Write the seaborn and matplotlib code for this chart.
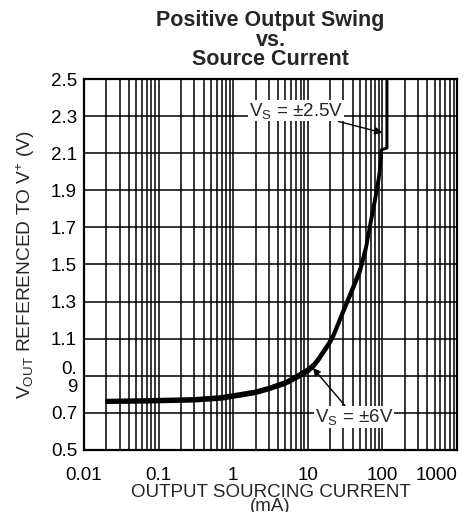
import numpy as np
import pandas as pd
import matplotlib
matplotlib.use('Agg')
import matplotlib.pyplot as plt
import seaborn as sns

# Data (current in mA, voltage in V)
current_6v = [0.02, 0.06, 0.3, 0.7, 1, 2, 3, 5, 7, 10, 12, 14, 16, 19, 22, 30, 40, 50, 60, 70, 80, 90, 97]
vout_6v = [0.756, 0.758, 0.764, 0.774, 0.784, 0.804, 0.824, 0.854, 0.884, 0.92, 0.948, 0.982, 1.018, 1.062, 1.108, 1.24, 1.36, 1.455, 1.575, 1.72, 1.84, 1.96, 2.09]

current_25v = [0.02, 0.06, 0.3, 0.7, 1, 2, 3, 5, 7, 10, 12, 14, 16, 19, 22, 30, 40, 50, 60, 70, 80, 90, 97, 115, 115]
vout_25v = [0.768, 0.771, 0.777, 0.788, 0.798, 0.818, 0.838, 0.868, 0.9, 0.938, 0.964, 0.998, 1.034, 1.078, 1.124, 1.258, 1.38, 1.478, 1.598, 1.745, 1.865, 1.985, 2.118, 2.128, 2.49]

y_ticks = [0.5, 0.7, 0.9, 1.1, 1.3, 1.5, 1.7, 1.9, 2.1, 2.3, 2.5]
y_tick_labels = ['0.5', '0.7', '0.\n9', '1.1', '1.3', '1.5', '1.7', '1.9', '2.1', '2.3', '2.5']
x_ticks = [0.01, 0.1, 1, 10, 100, 1000]
x_tick_labels = ['0.01', '0.1', '1', '10', '100', '1000']

df = pd.concat([
    pd.DataFrame({'current': current_6v, 'vout': vout_6v, 'supply': '6V'}),
    pd.DataFrame({'current': current_25v, 'vout': vout_25v, 'supply': '2.5V'}),
])

sns.set_style('white')
plt.rcParams['font.family'] = ['Liberation Sans', 'DejaVu Sans']
plt.rcParams['mathtext.fontset'] = 'custom'
plt.rcParams['mathtext.rm'] = 'Liberation Sans'
plt.rcParams['mathtext.it'] = 'Liberation Sans'

fig = plt.figure(figsize=(4.68, 5.12), dpi=100)
ax = fig.add_axes([0.1795, 0.1211, 0.797, 0.7246])

sns.lineplot(data=df, x='current', y='vout', units='supply', estimator=None,
             color='black', linewidth=2.2, legend=False, ax=ax)

ax.set_xscale('log')
ax.set_xlim(0.01, 1000)
ax.set_ylim(0.5, 2.5)
ax.set_xticks(x_ticks)
ax.set_xticklabels(x_tick_labels)
ax.set_yticks(y_ticks)
ax.set_yticklabels(y_tick_labels, linespacing=1.1)
ax.xaxis.set_minor_locator(matplotlib.ticker.LogLocator(base=10, subs=np.arange(2, 10)))
ax.xaxis.set_minor_formatter(matplotlib.ticker.NullFormatter())
ax.get_xticklabels()[-1].set_horizontalalignment('right')

ax.grid(True, which='both', axis='x', color='black', linewidth=1.1)
ax.grid(True, which='major', axis='y', color='black', linewidth=1.1)
ax.tick_params(axis='both', which='both', length=0, labelsize=13.5, colors='black')
ax.tick_params(axis='x', pad=12)
ax.tick_params(axis='y', pad=5)
for s in ax.spines.values():
    s.set_color('black')
    s.set_linewidth(1.6)

ax.set_xlabel('OUTPUT SOURCING CURRENT\n(mA)', fontsize=13.5, labelpad=0, linespacing=0.8)
ax.set_ylabel(r'V$_{\mathrm{OUT}}$ REFERENCED TO V$^{+}$ (V)', fontsize=13.8, labelpad=10)
ax.set_title('Positive Output Swing\nvs.\nSource Current', fontsize=15.5,
             fontweight='bold', linespacing=0.9, pad=10)

box = dict(boxstyle='square,pad=0.05', fc='white', ec='none')
ax.annotate(r'V$_{\mathrm{S}}$ = ±2.5V', xy=(100, 2.21), xytext=(7, 2.33),
            fontsize=13.5, ha='center', va='center', bbox=box,
            arrowprops=dict(arrowstyle='-|>', color='black', lw=1, shrinkA=0, shrinkB=0,
                            mutation_scale=11))
ax.annotate(r'V$_{\mathrm{S}}$ = ±6V', xy=(11.7, 0.942), xytext=(42, 0.68),
            fontsize=13.5, ha='center', va='center', bbox=box,
            arrowprops=dict(arrowstyle='-|>', color='black', lw=1, shrinkA=0, shrinkB=0,
                            mutation_scale=11))

fig.savefig('out.png', dpi=100)
